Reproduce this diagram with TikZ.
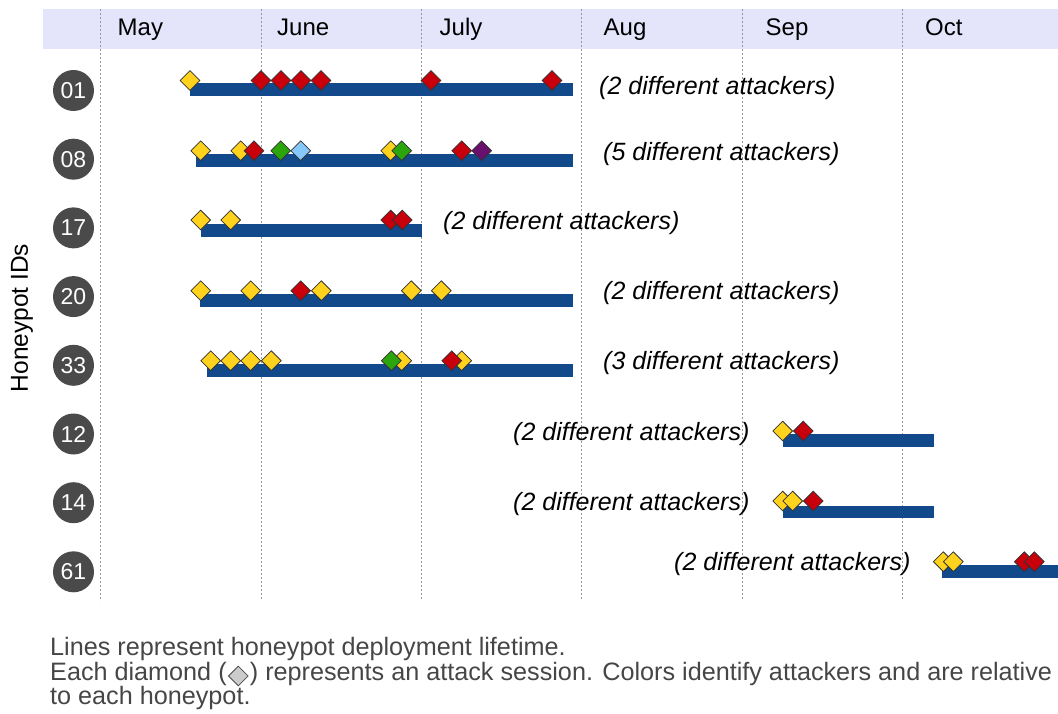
\documentclass[tikz,border=0pt]{standalone}
\usepackage{fontspec}
\setmainfont{Liberation Sans}
\usetikzlibrary{shapes.geometric}
\definecolor{bandc}{RGB}{228,228,250}
\definecolor{barc}{RGB}{17,73,139}
\definecolor{cy}{RGB}{255,210,30}
\definecolor{cr}{RGB}{200,0,12}
\definecolor{cg}{RGB}{44,165,12}
\definecolor{cb}{RGB}{135,200,250}
\definecolor{cp}{RGB}{105,15,110}
\definecolor{circc}{RGB}{74,74,74}
\definecolor{gridc}{RGB}{150,150,150}
\definecolor{legc}{RGB}{70,70,70}
\begin{document}
\begin{tikzpicture}[x=1pt,y=-1pt,
  dia/.style={diamond, draw=black!80, line width=0.8pt, minimum width=20pt, minimum height=20pt, inner sep=0pt},
  Y/.style={dia, fill=cy}, R/.style={dia, fill=cr}, G/.style={dia, fill=cg},
  B/.style={dia, fill=cb}, P/.style={dia, fill=cp},
  bar/.style={fill=barc},
  grid/.style={draw=gridc, line width=0.7pt, dash pattern=on 2pt off 2pt},
  month/.style={anchor=base west, inner sep=0pt, font=\fontsize{24}{28}\selectfont},
  att/.style={anchor=west, inner sep=0pt, font=\fontsize{25}{29}\selectfont\itshape},
  hid/.style={circle, fill=circc, minimum size=41pt, inner sep=0pt, text=white, font=\fontsize{23}{23}\selectfont},
  leg/.style={anchor=base west, inner sep=0pt, text=legc, font=\fontsize{25.2}{26}\selectfont}]
\useasboundingbox (0,0) rectangle (1058,714);
% header band
\fill[bandc] (43,9) rectangle (1058,49.5);
% grid lines
\foreach \gx in {100.5,261,421.3,581.8,742.2,902.5}{
  \draw[grid] (\gx,9) -- (\gx,601);
}
% months
\node[month] (mMay) at (117.5,36) {May};
\node[month] (mJun) at (277,36) {June};
\node[month] (mJul) at (439.5,36) {July};
\node[month] (mAug) at (603.5,36) {Aug};
\node[month] (mSep) at (765.5,36) {Sep};
\node[month] (mOct) at (925,36) {Oct};
% axis label
\node[rotate=90, inner sep=0pt, font=\fontsize{24.5}{28}\selectfont] (ylab) at (22,318) {Honeypot IDs};
% honeypot ids
\node[hid] (h01) at (73.5,90.5) {01};
\node[hid] (h08) at (73.5,159.2) {08};
\node[hid] (h17) at (73.5,227.9) {17};
\node[hid] (h20) at (73.5,296.6) {20};
\node[hid] (h33) at (73.5,365.3) {33};
\node[hid] (h12) at (73.5,434) {12};
\node[hid] (h14) at (73.5,502.7) {14};
\node[hid] (h61) at (73.5,571.8) {61};
% bars
\fill[bar] (190,83.5) rectangle (573,96);
\fill[bar] (196,154.3) rectangle (573,166.7);
\fill[bar] (200.7,224) rectangle (422.3,236.7);
\fill[bar] (200,294.3) rectangle (573,306.7);
\fill[bar] (206.7,364.3) rectangle (573,376.7);
\fill[bar] (783.3,434.3) rectangle (934.3,447.3);
\fill[bar] (783.3,505.7) rectangle (934.3,517.7);
\fill[bar] (941.7,565.3) rectangle (1058,577.7);
% row 01
\node[Y] (a1) at (190,80.5) {};
\node[R] (a2) at (261,80.5) {};
\node[R] (a3) at (281,80.5) {};
\node[R] (a4) at (301,80.5) {};
\node[R] (a5) at (321,80.5) {};
\node[R] (a6) at (431,80.5) {};
\node[R] (a7) at (552,80.5) {};
% row 08
\node[Y] (b1) at (200.7,150.7) {};
\node[Y] (b2) at (240.7,150.7) {};
\node[R] (b3) at (254,150.7) {};
\node[G] (b4) at (280.7,150.7) {};
\node[B] (b5) at (300.7,150.7) {};
\node[Y] (b6) at (390.7,150.7) {};
\node[G] (b7) at (401.7,150.7) {};
\node[R] (b8) at (461.7,150.7) {};
\node[P] (b9) at (481.7,150.7) {};
% row 17
\node[Y] (c1) at (200.7,220) {};
\node[Y] (c2) at (230.7,220) {};
\node[R] (c3) at (390.7,220) {};
\node[R] (c4) at (402.3,220) {};
% row 20
\node[Y] (d1) at (200.7,290.7) {};
\node[Y] (d2) at (250.7,290.7) {};
\node[R] (d3) at (300.7,290.7) {};
\node[Y] (d4) at (321.3,290.7) {};
\node[Y] (d5) at (411.3,290.7) {};
\node[Y] (d6) at (441.3,290.7) {};
% row 33
\node[Y] (e1) at (210.7,360.7) {};
\node[Y] (e2) at (230.7,360.7) {};
\node[Y] (e3) at (250.7,360.7) {};
\node[Y] (e4) at (271.3,360.7) {};
\node[Y] (e5) at (401.7,360.7) {};
\node[G] (e6) at (391.3,360.7) {};
\node[Y] (e7) at (461.7,360.7) {};
\node[R] (e8) at (451.7,360.7) {};
% row 12
\node[Y] (f1) at (782.7,431) {};
\node[R] (f2) at (803.3,431) {};
% row 14
\node[Y] (g1) at (782.7,501) {};
\node[Y] (g2) at (792.7,501) {};
\node[R] (g3) at (813.3,501) {};
% row 61
\node[Y] (k1) at (943.3,561.7) {};
\node[Y] (k2) at (953.3,561.7) {};
\node[R] (k3) at (1024.3,561.7) {};
\node[R] (k4) at (1034.3,561.7) {};
% attacker counts
\node[att] (t01) at (599,88.5) {(2 different attackers)};
\node[att] (t08) at (603,154.5) {(5 different attackers)};
\node[att] (t17) at (443,223.5) {(2 different attackers)};
\node[att] (t20) at (603,293.5) {(2 different attackers)};
\node[att] (t33) at (603,363.5) {(3 different attackers)};
\node[att] (t12) at (513,434.5) {(2 different attackers)};
\node[att] (t14) at (513,504.5) {(2 different attackers)};
\node[att] (t61) at (674,564.5) {(2 different attackers)};
% legend
\coordinate (legy) at (0,676);
\node[leg] (l1) at (50,655) {Lines represent honeypot deployment lifetime.};
\node[leg] (l2a) at (50,680) {Each diamond (};
\node[diamond, draw=black!70, fill=black!20, line width=0.8pt, minimum width=20pt, minimum height=20pt, inner sep=0pt, anchor=west, xshift=1pt] (ld) at (l2a.base east |- legy) {};
\node[leg] (l2b) at ([xshift=1pt]ld.east |- l2a.base) {) represents an attack session. Colors identify attackers and are relative};
\node[leg] (l3) at (50,704.5) {to each honeypot.};
\end{tikzpicture}
\end{document}
